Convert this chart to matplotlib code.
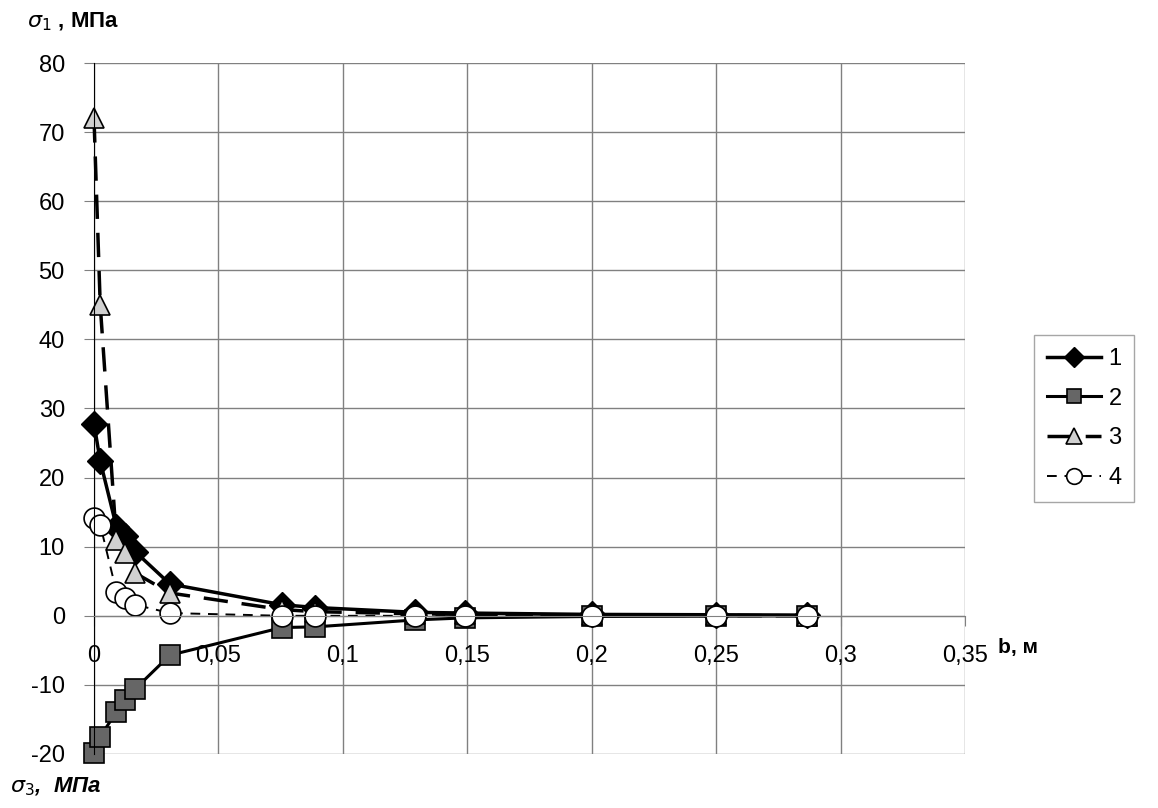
import numpy as np
import matplotlib.pyplot as plt

plt.rcParams['font.family'] = ['Liberation Sans', 'DejaVu Sans']
plt.rcParams['axes.unicode_minus'] = False

# distance from the edge, m
b = [0, 0.0025, 0.009, 0.0125, 0.0165, 0.0305, 0.0755, 0.089, 0.129, 0.149, 0.2, 0.25, 0.2865]

# stresses, MPa
s1 = [27.8, 22.4, 12.9, 11.5, 9.3, 4.6, 1.6, 1.2, 0.5, 0.4, 0.2, 0.15, 0.1]
s2 = [-19.9, -17.5, -13.9, -12.2, -10.6, -5.7, -1.7, -1.6, -0.6, -0.3, -0.1, -0.05, 0.0]
s3 = [72.0, 45.0, 11.0, 9.1, 6.2, 3.3, 0.9, 0.6, 0.3, 0.2, 0.1, 0.05, 0.0]
s4 = [14.2, 13.2, 3.5, 2.6, 1.6, 0.4, 0.0, 0.0, 0.0, 0.0, 0.0, 0.0, 0.0]

xticks = np.arange(0, 0.351, 0.05)
xlabels = ['0', '0,05', '0,1', '0,15', '0,2', '0,25', '0,3', '0,35']
yticks = np.arange(-20, 81, 10)

fig = plt.figure(figsize=(11.58, 8.08), dpi=100)
ax = fig.add_axes([94/1158, 1-754/808, (965-94)/1158, (754-63)/808])

l1, = ax.plot(b, s1, '-', color='black', lw=2.5, marker='D', ms=13,
              mfc='black', mec='black', label='1', clip_on=False)
l2, = ax.plot(b, s2, '-', color='black', lw=2.2, marker='s', ms=14,
              mfc='#666666', mec='black', mew=1.2, label='2', clip_on=False)
l3, = ax.plot(b, s3, color='black', lw=2.5, dashes=(7, 4), marker='^', ms=15,
              mfc='#d0d0d0', mec='black', mew=1.2, label='3', clip_on=False)
l4, = ax.plot(b, s4, color='black', lw=1.4, dashes=(5, 4), marker='o', ms=15,
              mfc='white', mec='black', mew=1.2, label='4', clip_on=False)

ax.set_xlim(0, 0.35)
ax.set_ylim(-20, 80)
ax.set_xticks(xticks)
ax.set_xticklabels(xlabels)
ax.set_yticks(yticks)
ax.grid(True, color='#808080', lw=1)
ax.set_axisbelow(True)

for s in ['top', 'right']:
    ax.spines[s].set_visible(False)
ax.spines['bottom'].set_position(('data', 0))
ax.spines['bottom'].set_color('#808080')
ax.spines['left'].set_color('black')
ax.tick_params(axis='both', labelsize=17, direction='out', length=7, color='#808080')
ax.tick_params(axis='y', pad=14)
ax.tick_params(axis='x', pad=14)

# axis titles
fig.text(27/1158, 1-22/808, r'$\mathit{\sigma_1}$ , МПа', fontsize=16,
         fontweight='bold', va='center', ha='left')
fig.text(10/1158, 1-787/808, r'$\mathit{\sigma_3}$,  МПа', fontsize=16,
         fontweight='bold', style='italic', va='center', ha='left')
fig.text(998/1158, 1-647/808, 'b, м', fontsize=15, fontweight='bold',
         ha='left', va='center')

leg = fig.legend(handles=[l1, l2, l3, l4], loc='upper left',
                 bbox_to_anchor=(1034/1158, 1-335/808), borderaxespad=0,
                 fontsize=17, frameon=True, fancybox=False, handlelength=2.3,
                 markerscale=0.75, labelspacing=0.75, borderpad=0.55,
                 handletextpad=0.3)
leg.get_frame().set_edgecolor('#909090')
leg.get_frame().set_linewidth(1)

fig.savefig('out.png', dpi=100)
